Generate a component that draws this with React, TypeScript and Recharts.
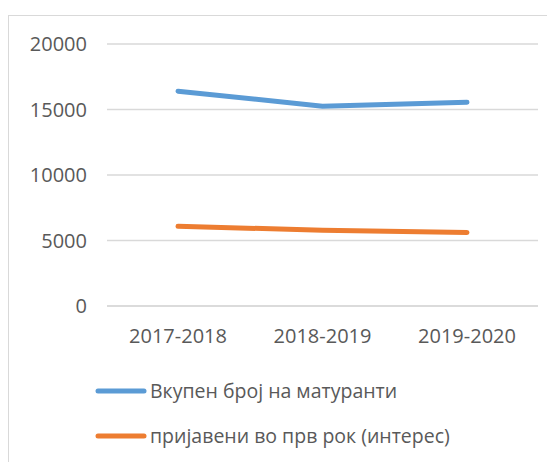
import { LineChart, Line, XAxis, YAxis, CartesianGrid, Legend } from 'recharts';

const years = ['2017-2018', '2018-2019', '2019-2020'];
const totalGraduates = [16400, 15250, 15550];
const firstTermApplied = [6080, 5790, 5610];
const yTicks = [0, 5000, 10000, 15000, 20000];

const seriesNames = {
    total: 'Вкупен број на матуранти',
    applied: 'пријавени во прв рок (интерес)',
};

const data = years.map((y, i) => ({
    year: y,
    total: totalGraduates[i],
    applied: firstTermApplied[i],
}));

const FONT = '"Open Sans", sans-serif';
const TEXT = '#595959';

// eslint-disable-next-line @typescript-eslint/no-explicit-any
const renderLegend = (props: any) => {
    const { payload } = props;
    return (
        <div style={{ fontFamily: FONT, fontSize: 19.5, color: TEXT }}>
            {/* eslint-disable-next-line @typescript-eslint/no-explicit-any */}
            {payload.map((p: any) => (
                <div key={p.value} style={{ display: 'flex', alignItems: 'center', height: 45 }}>
                    <svg width={52} height={8} style={{ marginRight: 3 }}>
                        <line x1={3} y1={4} x2={49} y2={4} stroke={p.color} strokeWidth={5} strokeLinecap="round" />
                    </svg>
                    <span>{p.value}</span>
                </div>
            ))}
        </div>
    );
};

export default function App() {
    return (
        <div style={{ paddingTop: 7 }}>
            <div style={{ width: 560, height: 450, borderTop: '1px solid #d9d9d9', borderLeft: '1px solid #d9d9d9', background: '#fff' }}>
                <LineChart width={546} height={446} data={data} margin={{ top: 28, right: 17, bottom: 36, left: 0 }}>
                    <CartesianGrid vertical={false} stroke="#d9d9d9" strokeWidth={1.5} />
                    <XAxis
                        dataKey="year"
                        height={30}
                        padding={{ left: 71, right: 71 }}
                        axisLine={{ stroke: '#d9d9d9', strokeWidth: 1.5 }}
                        tickLine={false}
                        tickSize={0}
                        tickMargin={23}
                        tick={{ fill: TEXT, fontSize: 20, fontFamily: FONT }}
                    />
                    <YAxis
                        width={98}
                        domain={[0, 20000]}
                        ticks={yTicks}
                        axisLine={false}
                        tickLine={false}
                        tickSize={0}
                        tickMargin={20}
                        tick={{ fill: TEXT, fontSize: 20, fontFamily: FONT }}
                    />
                    <Legend
                        layout="vertical"
                        verticalAlign="bottom"
                        height={90}
                        content={renderLegend}
                        wrapperStyle={{ left: 86, top: 352, width: 400 }}
                    />
                    <Line type="linear" dataKey="total" name={seriesNames.total} stroke="#5B9BD5" strokeWidth={5} strokeLinecap="round" dot={false} isAnimationActive={false} />
                    <Line type="linear" dataKey="applied" name={seriesNames.applied} stroke="#ED7D31" strokeWidth={5} strokeLinecap="round" dot={false} isAnimationActive={false} />
                </LineChart>
            </div>
        </div>
    );
}
